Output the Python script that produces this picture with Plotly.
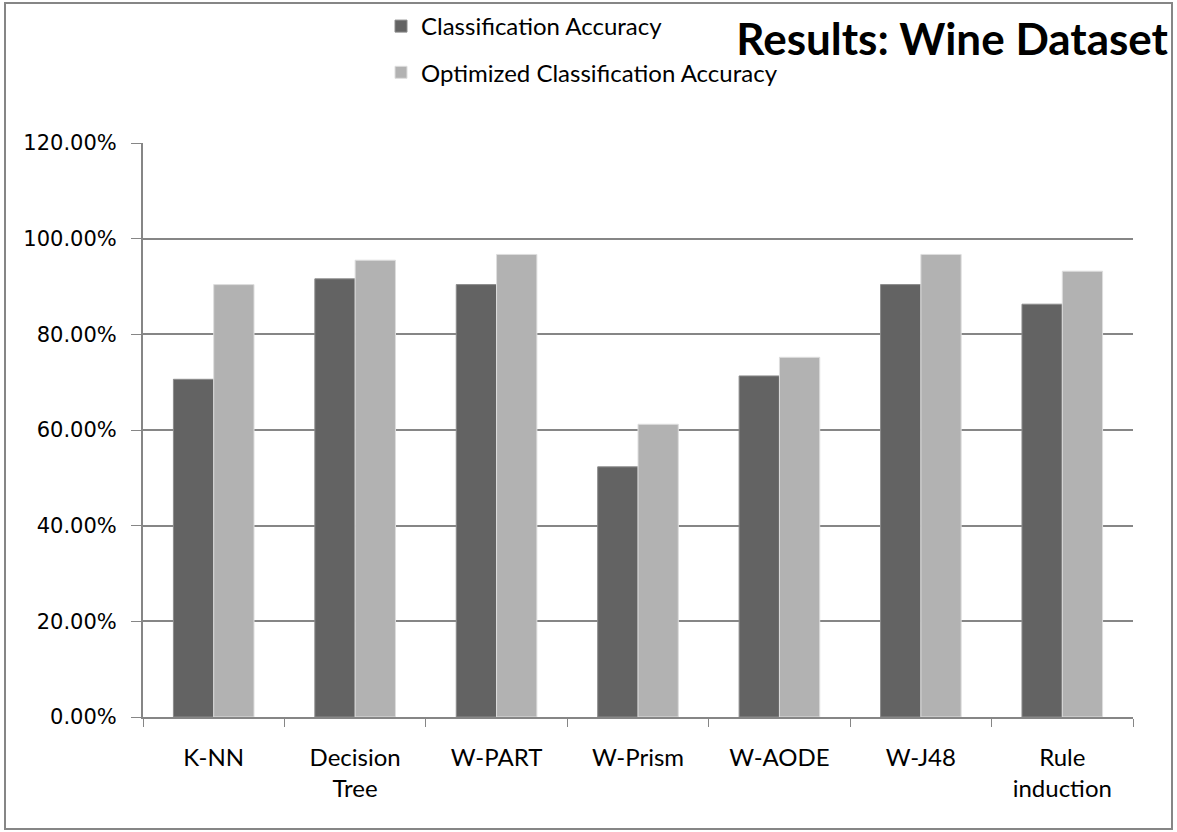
import plotly.graph_objects as go

# Classifier names on the category axis
categories = ["K-NN", "Decision<br>Tree", "W-PART", "W-Prism", "W-AODE", "W-J48", "Rule<br>induction"]

# Accuracy per classifier (fractions, shown as percentages)
classification_accuracy = [0.706, 0.916, 0.904, 0.523, 0.713, 0.904, 0.863]
optimized_accuracy = [0.904, 0.955, 0.967, 0.612, 0.752, 0.967, 0.932]

series_names = ["Classification Accuracy", "Optimized Classification Accuracy"]

W, H = 1177, 832
ML, MR, MT, MB = 143, 44, 143, 115
GRID = "#868686"
TEXT_FONT = "Lato, Open Sans, sans-serif"

fig = go.Figure()
fig.add_trace(go.Bar(
    x=categories, y=classification_accuracy, name=series_names[0],
    marker=dict(color="#636363", line=dict(color="#8c8c8c", width=1)),
    legendgroup="a",
))
fig.add_trace(go.Bar(
    x=categories, y=optimized_accuracy, name=series_names[1],
    marker=dict(color="#b2b2b2", line=dict(color="#dedede", width=1)),
    legendgroup="b",
))

pw = W - ML - MR
ph = H - MT - MB

def px_x(x):
    return (x - ML) / pw

def px_y(y):
    return (H - MB - y) / ph

fig.update_layout(
    width=W, height=H,
    margin=dict(l=ML, r=MR, t=MT, b=MB, autoexpand=False),
    paper_bgcolor="white", plot_bgcolor="white",
    barmode="group", bargap=0.43, bargroupgap=0,
    font=dict(family=TEXT_FONT, color="#000000"),
    title=dict(
        text="<b>Results: Wine Dataset</b>",
        xref="container", yref="container",
        x=1168 / W, xanchor="right",
        y=1 - 40 / H, yanchor="middle",
        font=dict(family=TEXT_FONT, size=44, color="#000000"),
    ),
    legend=dict(
        xref="container", yref="container",
        x=381 / W, xanchor="left",
        y=1 - 4 / H, yanchor="top",
        orientation="v",
        traceorder="grouped",
        tracegroupgap=12,
        font=dict(family=TEXT_FONT, size=24, color="#000000"),
        bgcolor="rgba(0,0,0,0)",
    ),
    xaxis=dict(
        automargin=False,
        showline=True, linecolor=GRID, linewidth=2,
        ticks="outside", tickson="boundaries", ticklen=8, tickcolor=GRID, tickwidth=1,
        showgrid=False,
        tickfont=dict(family=TEXT_FONT, size=24, color="#000000"),
        ticklabelstandoff=18,
    ),
    yaxis=dict(
        automargin=False,
        range=[0, 1.2], dtick=0.2, tick0=0, tickformat=".2%",
        showline=True, linecolor=GRID, linewidth=2,
        ticks="outside", ticklen=10, tickcolor=GRID, tickwidth=1,
        showgrid=True, gridcolor=GRID, gridwidth=2,
        zeroline=False,
        tickfont=dict(family="Verdana, DejaVu Sans, sans-serif", size=21, color="#000000"),
        ticklabelstandoff=10,
    ),
    shapes=[dict(
        type="rect", xref="paper", yref="paper",
        x0=px_x(5), x1=px_x(1172), y0=px_y(829), y1=px_y(3),
        line=dict(color=GRID, width=2), fillcolor="rgba(0,0,0,0)", layer="below",
    )],
)

fig.write_html("out.html")
